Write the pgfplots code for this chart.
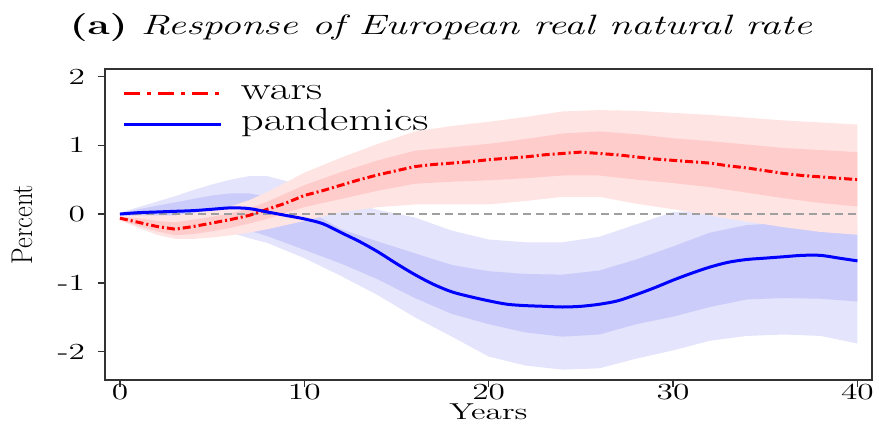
\documentclass[border=0pt]{standalone}
\usepackage{graphicx}
\usepackage{pgfplots}
\pgfplotsset{compat=1.18}
\usepgfplotslibrary{fillbetween}
\usepackage{pgfplotstable}

\definecolor{rlight}{RGB}{255,228,228}
\definecolor{rmid}{RGB}{255,204,204}
\definecolor{blight}{RGB}{228,228,252}
\definecolor{bmid}{RGB}{204,204,250}
\definecolor{axgray}{RGB}{50,50,50}

\newcommand{\hs}[1]{\scalebox{1.45}[1]{#1}}
\newcommand{\legtxt}[1]{\fontsize{16}{18}\selectfont\scalebox{1.4}[1]{#1}}

% central responses
\pgfplotstableread{
x    wars   pand
0   -0.06   0.00
1   -0.12   0.02
2   -0.18   0.03
3   -0.22   0.04
4   -0.18   0.05
5   -0.13   0.07
6   -0.08   0.09
7   -0.02   0.08
8    0.07   0.03
9    0.16  -0.02
10   0.27  -0.07
11   0.34  -0.14
12   0.42  -0.27
13   0.50  -0.40
14   0.57  -0.55
15   0.63  -0.72
16   0.69  -0.88
17   0.72  -1.02
18   0.74  -1.13
19   0.76  -1.20
20   0.79  -1.26
21   0.81  -1.31
22   0.83  -1.33
23   0.86  -1.34
24   0.88  -1.35
25   0.90  -1.34
26   0.88  -1.31
27   0.86  -1.26
28   0.83  -1.17
29   0.80  -1.07
30   0.78  -0.96
31   0.76  -0.86
32   0.74  -0.77
33   0.70  -0.70
34   0.67  -0.66
35   0.63  -0.64
36   0.59  -0.62
37   0.56  -0.60
38   0.54  -0.60
39   0.52  -0.64
40   0.50  -0.68
}\means

% wars bands: 90% and 68%
\pgfplotstableread{
x   lo90   lo68   hi68   hi90
0  -0.09  -0.08  -0.04  -0.03
1  -0.20  -0.17  -0.06  -0.02
2  -0.30  -0.25  -0.10  -0.02
3  -0.36  -0.31  -0.12  -0.02
4  -0.36  -0.29  -0.08   0.02
5  -0.34  -0.25  -0.04   0.06
6  -0.31  -0.20   0.01   0.11
7  -0.27  -0.14   0.08   0.20
8  -0.22  -0.07   0.18   0.32
9  -0.16   0.02   0.30   0.46
10 -0.10   0.10   0.42   0.60
12  0.03   0.22   0.61   0.82
14  0.10   0.34   0.78   1.02
16  0.14   0.44   0.92   1.20
18  0.14   0.47   0.97   1.28
20  0.14   0.49   1.02   1.34
22  0.19   0.52   1.09   1.41
24  0.25   0.56   1.17   1.49
26  0.25   0.56   1.20   1.51
28  0.15   0.50   1.16   1.50
30  0.07   0.45   1.10   1.47
32 -0.02   0.39   1.06   1.44
34 -0.11   0.31   1.01   1.40
36 -0.19   0.23   0.96   1.36
38 -0.26   0.16   0.93   1.33
40 -0.30   0.11   0.90   1.30
}\warsband

% pandemics bands: 90% and 68%
\pgfplotstableread{
x   lo90   lo68   hi68   hi90
0  -0.02  -0.01   0.01   0.02
1  -0.06  -0.04   0.07   0.10
2  -0.10  -0.07   0.12   0.18
3  -0.13  -0.08   0.17   0.26
4  -0.17  -0.10   0.22   0.35
5  -0.22  -0.12   0.27   0.43
6  -0.27  -0.15   0.30   0.50
7  -0.35  -0.24   0.30   0.55
8  -0.42  -0.32   0.25   0.55
9  -0.53  -0.42   0.18   0.48
10 -0.64  -0.52   0.08   0.40
12 -0.90  -0.72  -0.22   0.20
14 -1.18  -0.95  -0.40   0.06
16 -1.50  -1.22  -0.57  -0.05
18 -1.78  -1.45  -0.74  -0.24
20 -2.07  -1.60  -0.83  -0.37
22 -2.20  -1.72  -0.87  -0.41
24 -2.26  -1.78  -0.88  -0.41
26 -2.24  -1.75  -0.82  -0.33
28 -2.10  -1.60  -0.66  -0.15
30 -1.98  -1.49  -0.47   0.03
32 -1.84  -1.35  -0.27   0.05
34 -1.77  -1.24  -0.16   0.00
36 -1.75  -1.22  -0.13  -0.05
38 -1.77  -1.23  -0.18  -0.10
40 -1.88  -1.27  -0.30  -0.15
}\pandband

\begin{document}
\begin{tikzpicture}
\begin{axis}[
    scale only axis,
    width=383.5pt, height=155.5pt,
    xmin=-0.81, xmax=40.79,
    ymin=-2.41, ymax=2.107,
    clip=false,
    axis line style={axgray, line width=0.6pt},
    xtick={0,10,20,30,40},
    xticklabels={\hs{0},\hs{10},\hs{20},\hs{30},\hs{40}},
    ytick={-2,-1,0,1,2},
    yticklabels={\hs{-2},\hs{-1},\hs{0},\hs{1},\hs{2}},
    xtick pos=left, ytick pos=left,
    tick align=outside,
    major tick length=3.5pt,
    tick style={axgray, line width=0.7pt},
    ticklabel style={font=\fontsize{11.5}{13}\selectfont},
    xticklabel style={yshift=5pt},
    yticklabel style={xshift=-3pt},
    xlabel={\fontsize{11.5}{13}\selectfont\hs{Years}},
    xlabel style={at={(axis description cs:0.5,0)}, anchor=center, yshift=-16pt},
    ylabel={\fontsize{15}{17}\selectfont\scalebox{0.88}[1]{Percent}},
    ylabel style={at={(axis description cs:-0.1082,0.5)}, anchor=center},
    title={\hs{\textbf{(a)} \textit{Response of European real natural rate}}},
    title style={font=\fontsize{14}{16}\selectfont, at={(axis description cs:0.438,1)}, anchor=center, yshift=14.5pt},
    legend style={draw=none, fill=none, at={(axis description cs:0,1)}, anchor=north west,
        inner sep=0pt, outer sep=0pt, row sep=2.5pt, xshift=9pt, yshift=-6pt,
        nodes={inner xsep=0pt, inner ysep=1.5pt, text height=8pt, text depth=2pt},
        /tikz/every odd column/.append style={column sep=9pt}},
    legend cell align=left,
    legend image code/.code={\draw[#1] (0pt,0pt) -- (48.5pt,0pt);},
]
% pandemics bands
\addplot[name path=p90lo, draw=none, forget plot] table[x=x, y=lo90] {\pandband};
\addplot[name path=p90hi, draw=none, forget plot] table[x=x, y=hi90] {\pandband};
\addplot[blight, forget plot] fill between[of=p90lo and p90hi];
\addplot[name path=p68lo, draw=none, forget plot] table[x=x, y=lo68] {\pandband};
\addplot[name path=p68hi, draw=none, forget plot] table[x=x, y=hi68] {\pandband};
\addplot[bmid, forget plot] fill between[of=p68lo and p68hi];
% wars bands
\addplot[name path=w90lo, draw=none, forget plot] table[x=x, y=lo90] {\warsband};
\addplot[name path=w90hi, draw=none, forget plot] table[x=x, y=hi90] {\warsband};
\addplot[rlight, forget plot] fill between[of=w90lo and w90hi];
\addplot[name path=w68lo, draw=none, forget plot] table[x=x, y=lo68] {\warsband};
\addplot[name path=w68hi, draw=none, forget plot] table[x=x, y=hi68] {\warsband};
\addplot[rmid, forget plot] fill between[of=w68lo and w68hi];
% zero line
\addplot[gray!75, line width=0.8pt, dash pattern=on 4pt off 2.5pt, forget plot] coordinates {(0,0) (40,0)};
% responses
\addplot[red, line width=1.5pt, dash pattern=on 4pt off 1.5pt on 1pt off 1.5pt,
    legend image code/.code={\draw[red, line width=1.5pt, dash pattern=on 8pt off 3.5pt on 2pt off 3.5pt] (0pt,0pt) -- (48.5pt,0pt);}]
    table[x=x, y=wars] {\means};
\addlegendentry{\legtxt{wars}}
\addplot[blue, line width=1.5pt, smooth] table[x=x, y=pand] {\means};
\addlegendentry{\legtxt{pandemics}}
% heavier left and bottom axis lines
\draw[axgray, line width=1.3pt] (rel axis cs:0,1) -- (rel axis cs:0,0) -- (rel axis cs:1,0);
\coordinate (SW) at (rel axis cs:0,0);
\coordinate (NE) at (rel axis cs:1,1);
\end{axis}
\pgfresetboundingbox
\path ([shift={(-52.5pt,-23pt)}]SW) rectangle ([shift={(3.5pt,34.5pt)}]NE);
\end{tikzpicture}
\end{document}
